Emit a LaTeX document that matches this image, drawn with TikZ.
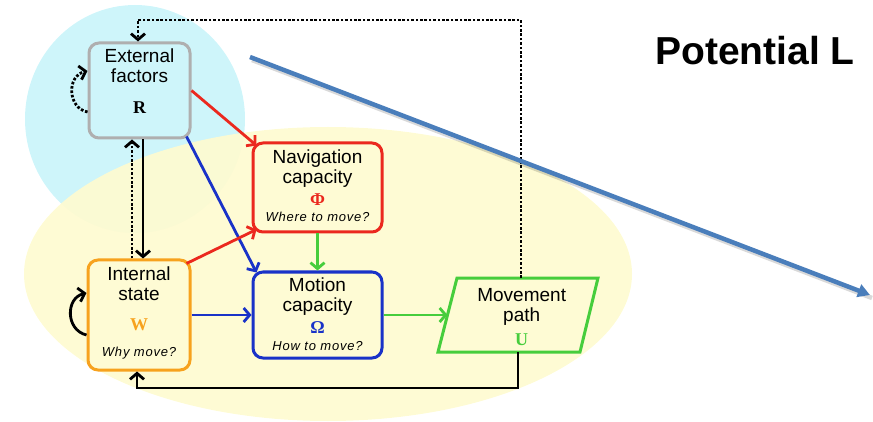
\documentclass[tikz,border=0pt]{standalone}
\usepackage{fontspec}
\setmainfont{Liberation Sans}
\newfontfamily\greekf{Liberation Serif}
\usetikzlibrary{arrows.meta}
\definecolor{cyanbg}{RGB}{206,245,250}
\definecolor{yelbg}{RGB}{254,251,208}
\definecolor{cred}{RGB}{235,40,30}
\definecolor{cblue}{RGB}{25,50,200}
\definecolor{corange}{RGB}{247,162,30}
\definecolor{cgreen}{RGB}{70,205,60}
\definecolor{cgray}{RGB}{175,175,175}
\definecolor{pblue}{RGB}{74,126,187}
\begin{document}
\begin{tikzpicture}[x=1pt,y=-1pt,
  box/.style={draw, line width=3pt, rounded corners=10pt, inner sep=0pt},
  lbl/.style={anchor=base, inner sep=0pt, font=\fontsize{19}{21}\selectfont},
  sym/.style={anchor=base, inner sep=0pt, font=\fontsize{18}{20}\selectfont\greekf\bfseries},
  qst/.style={anchor=base, inner sep=0pt, font=\fontsize{13}{15}\selectfont\itshape\addfontfeature{LetterSpace=6}},
  conn/.style={line width=2.8pt},
  arr/.style={-{Straight Barb[length=6pt,width=14pt]}},
  dots/.style={dash pattern=on 2.6pt off 1.8pt}]
\useasboundingbox (0,0) rectangle (873,422);
% background blobs
\fill[cyanbg] (135,119) ellipse [x radius=110pt, y radius=114pt];
\fill[yelbg, opacity=0.92] (328,274) ellipse [x radius=304pt, y radius=147pt];
% boxes
\node[box, draw=cgray, minimum width=101pt, minimum height=95pt] (ext) at (139.5,90.5) {};
\node[box, draw=cred, minimum width=129pt, minimum height=89pt] (nav) at (317.5,187.5) {};
\node[box, draw=cblue, minimum width=129pt, minimum height=86pt] (mot) at (317.5,315) {};
\node[box, draw=corange, minimum width=102pt, minimum height=110pt] (int) at (139,315) {};
\draw[cgreen, line width=3pt] (457,278) -- (598,278) -- (580,352) -- (438,352) -- cycle;
\coordinate (mpW) at (447.5,315);
\coordinate (mpT) at (521,278);
\coordinate (mpB) at (518,352);
% texts
\node[lbl] (e1) at (139.5,63) {External};
\node[lbl] (e2) at (139.5,83) {factors};
\node[sym] (e3) at (139.5,113.5) {R};
\node[lbl] (n1) at (317.5,163.3) {Navigation};
\node[lbl] (n2) at (317.5,183.3) {capacity};
\node[sym, text=cred] (n3) at (317.5,206) {Φ};
\node[qst] (n4) at (317.5,221.7) {Where to move?};
\node[lbl] (m1) at (317.5,291.7) {Motion};
\node[lbl] (m2) at (317.5,311.7) {capacity};
\node[sym, text=cblue] (m3) at (317.5,333.3) {Ω};
\node[qst] (m4) at (317.5,350) {How to move?};
\node[lbl] (i1) at (139,280) {Internal};
\node[lbl] (i2) at (139,300.7) {state};
\node[sym, text=corange] (i3) at (139,330.7) {W};
\node[qst] (i4) at (139,356.7) {Why move?};
\node[lbl] (p1) at (521.7,301.7) {Movement};
\node[lbl] (p2) at (521.7,321.7) {path};
\node[sym, text=cgreen] (p3) at (521.7,345.7) {U};
% connectors
\draw[conn, cred, arr] (ext.east) -- ([xshift=5pt,yshift=-4pt]nav.north west);
\draw[conn, cblue, arr] ([xshift=-5pt,yshift=3pt]ext.south east) -- ([xshift=5pt,yshift=-2pt]mot.north west);
\draw[conn, arr] ([xshift=3.5pt]ext.south) -- ([xshift=4pt]int.north);
\draw[conn, dots, arr] ([xshift=-7pt]int.north) -- ([xshift=-7.5pt]ext.south);
\draw[conn, cred, arr] ([xshift=-5pt,yshift=-5pt]int.north east) -- ([xshift=5pt,yshift=4pt]nav.south west);
\draw[conn, cblue, arr] (int.east) -- (mot.west);
\draw[conn, cgreen, arr] (nav.south) -- (mot.north);
\draw[conn, cgreen, arr] (mot.east) -- (mpW);
\draw[conn, arr] (mpB) -- ++(0,36) -| ([xshift=-2pt]int.south);
\draw[conn, dots, arr] (mpT) -- ++(0,-258) -| ([xshift=-1.5pt]ext.north);
\draw[conn, dots, arr] ([yshift=-21.5pt]ext.west) .. controls +(-20,-4) and +(-21,5) .. ([yshift=19.5pt]ext.west);
\draw[conn, arr] ([yshift=-20pt]int.west) .. controls +(-21,-5) and +(-21,5) .. ([yshift=22pt]int.west);
% title and pointer line
\node[anchor=base west, inner sep=0pt, font=\fontsize{39}{40}\selectfont\bfseries] (title) at (655,65) {Potential L};
\coordinate (bl1) at (250,57);
\coordinate (bl2) at (870,295);
\draw[line width=4.5pt, black, opacity=0.15] ([xshift=2pt,yshift=-3pt]bl1) -- ([xshift=2pt,yshift=-3pt]bl2);
\draw[line width=4.5pt, pblue, -{Triangle[length=12pt,width=13pt]}] (bl1) -- (bl2);
\end{tikzpicture}
\end{document}
